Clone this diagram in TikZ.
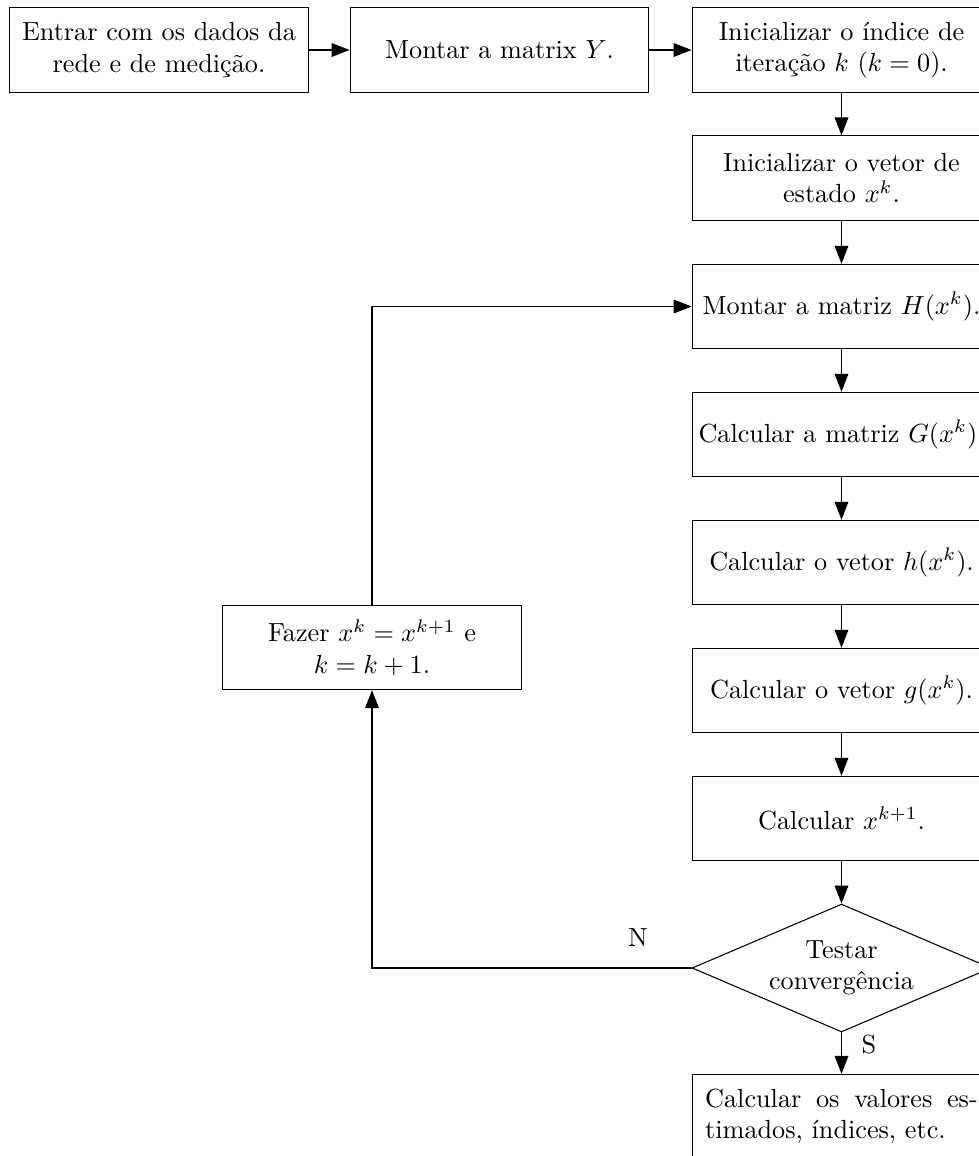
\documentclass[tikz,border=0pt]{standalone}
\usepackage{fontspec}
\usetikzlibrary{arrows.meta,shapes.geometric}
\begin{document}
\begin{tikzpicture}[x=0.3815pt,y=-0.3815pt,
  stepbox/.style={draw,rectangle,minimum width=114pt,minimum height=32.2pt,
    align=center,inner sep=2pt},
  testbox/.style={draw,diamond,shape aspect=2.34,minimum width=114pt,
    minimum height=48.8pt,align=center,inner sep=0pt},
  flow/.style={-{Triangle[length=6.8pt,width=5.2pt]}},
  lbl/.style={inner sep=0pt}]
\useasboundingbox (0,0) rectangle (979,1156);
% input and initial setup
\node[stepbox] (entrada) at (159,50) {Entrar com os dados da\\rede e de medição.};
\node[stepbox] (ymat) at (499.5,50) {Montar a matrix $Y$.};
\node[stepbox] (iter) at (841.5,50) {Inicializar o índice de\\iteração $k$ ($k=0$).};
\node[stepbox] (estado) at (841.5,178) {Inicializar o vetor de\\estado $x^k$.};
% iteration loop
\node[stepbox] (hmat) at (841.5,306.5) {Montar a matriz $H(x^k)$.};
\node[stepbox] (gmat) at (841.5,434.5) {Calcular a matriz $G(x^k)$.};
\node[stepbox] (hvec) at (841.5,562.5) {Calcular o vetor $h(x^k)$.};
\node[stepbox] (gvec) at (841.5,690.5) {Calcular o vetor $g(x^k)$.};
\node[stepbox] (xnext) at (841.5,818.5) {Calcular $x^{k+1}$.};
\node[testbox] (teste) at (841.5,968) {Testar\\convergência};
\node[stepbox,align=justify,text width=104pt] (final) at (841.5,1116.5)
  {Calcular os valores es-\linebreak timados, índices, etc.};
\node[stepbox] (update) at (372,647.5) {Fazer $x^k=x^{k+1}$ e\\$k=k+1$.};
% branch labels
\node[lbl] (nlab) at (638,938) {N};
\node[lbl] (slab) at (869,1045) {S};
% connectors
\draw[flow] (entrada) -- (ymat);
\draw[flow] (ymat) -- (iter);
\draw[flow] (iter) -- (estado);
\draw[flow] (estado) -- (hmat);
\draw[flow] (hmat) -- (gmat);
\draw[flow] (gmat) -- (hvec);
\draw[flow] (hvec) -- (gvec);
\draw[flow] (gvec) -- (xnext);
\draw[flow] (xnext) -- (teste);
\draw[flow] (teste) -- (final);
\draw[flow] (teste.west) -| (update.south);
\draw[flow] (update.north) |- (hmat.west);
\end{tikzpicture}
\end{document}
